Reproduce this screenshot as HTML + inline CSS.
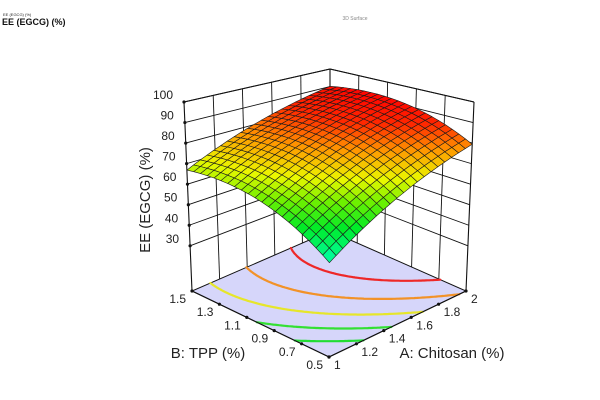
<!DOCTYPE html>
<html><head><meta charset="utf-8"><style>
html,body{margin:0;padding:0;background:#fff;}
svg{display:block;font-family:"Liberation Sans",sans-serif;}
</style></head><body>
<svg id="chart" width="600" height="400" viewBox="0 0 600 400" xmlns="http://www.w3.org/2000/svg">
<rect width="600" height="400" fill="#fff"/>
<text x="3" y="16" font-size="4" fill="#222">EE (EGCG) (%)</text>
<text x="2" y="25" font-size="9" font-weight="bold" fill="#111">EE (EGCG) (%)</text>
<text x="355" y="20" font-size="5" fill="#888" text-anchor="middle">3D Surface</text>
<g id="floor"></g>
<g id="walls"></g>
<g id="contours"></g>
<g id="surface"></g>
<g id="axes"></g>
<text x="150" y="200" font-size="15" fill="#222" text-anchor="middle" transform="rotate(-90 150 200)">EE (EGCG) (%)</text>
<text x="208" y="358" font-size="15" fill="#222" text-anchor="middle">B: TPP (%)</text>
<text x="452" y="358" font-size="15" fill="#222" text-anchor="middle">A: Chitosan (%)</text>
</svg>
<script>
// Quadratic model coefficients (coded units): b0, A, B, AB, A^2, B^2
const modelCoef = [79.5, 14, 7.74, -2.34, -2.23, -6.48];
const contourLevels = [56.6, 63.8, 71, 78.2, 85.4];
const contourColors = ["#22dd33", "#33e033", "#e6e62a", "#f29228", "#ee2828"];
const zTicks = [30, 40, 50, 60, 70, 80, 90, 100];
const aTicks = [1, 1.2, 1.4, 1.6, 1.8, 2];
const aTickLabels = ["1", "1.2", "1.4", "1.6", "1.8", "2"];
const bTicks = [0.5, 0.7, 0.9, 1.1, 1.3, 1.5];
const bTickLabels = ["0.5", "0.7", "0.9", "1.1", "1.3", "1.5"];
const aRange = [1, 2], bRange = [0.5, 1.5], zRange = [8, 100];

const NS = "http://www.w3.org/2000/svg";
const B = {c00:[329,357], c10:[466,291], c01:[192,291], c11:[330,231]};
const T = {c00:[330,133], c10:[474,102], c01:[184,102], c11:[330,69]};
function bil(C,u,v){
  return [C.c00[0]*(1-u)*(1-v)+C.c10[0]*u*(1-v)+C.c01[0]*(1-u)*v+C.c11[0]*u*v,
          C.c00[1]*(1-u)*(1-v)+C.c10[1]*u*(1-v)+C.c01[1]*(1-u)*v+C.c11[1]*u*v];
}
function P(u,v,w){const b=bil(B,u,v),t=bil(T,u,v);return [b[0]+(t[0]-b[0])*w,b[1]+(t[1]-b[1])*w];}
const uA = a => (a-aRange[0])/(aRange[1]-aRange[0]);
const vB = b => (b-bRange[0])/(bRange[1]-bRange[0]);
const wZ = z => (z-zRange[0])/(zRange[1]-zRange[0]);
function model(u,v){const x1=2*u-1,x2=2*v-1,c=modelCoef;
  return c[0]+c[1]*x1+c[2]*x2+c[3]*x1*x2+c[4]*x1*x1+c[5]*x2*x2;}
function mk(tag,attrs,parent){const e=document.createElementNS(NS,tag);for(const k in attrs)e.setAttribute(k,attrs[k]);parent.appendChild(e);return e;}
const pts = a => a.map(p=>p[0].toFixed(1)+","+p[1].toFixed(1)).join(" ");

// floor
const floorG=document.getElementById("floor");
const fl=mk("polygon",{points:pts([P(0,0,0),P(1,0,0),P(1,1,0),P(0,1,0)]),fill:"#d6d6fa",stroke:"#111","stroke-width":1},floorG);



// walls grid
const wallG=document.getElementById("walls");
function line(p,q,g,name,w){const l=mk("line",{x1:p[0],y1:p[1],x2:q[0],y2:q[1],stroke:"#111","stroke-width":w||0.9},g);
  
  return l;}
zTicks.forEach(z=>{const w=wZ(z);
  line(P(0,1,w),P(1,1,w),wallG,'left-wall-gridline');
  line(P(1,0,w),P(1,1,w),wallG,'right-wall-gridline');});
aTicks.slice(1,-1).forEach(a=>{const u=uA(a);line(P(u,1,0),P(u,1,1),wallG,'left-wall-vertical');});
bTicks.slice(1,-1).forEach(b=>{const v=vB(b);line(P(1,v,0),P(1,v,1),wallG,'right-wall-vertical');});
line(P(0,1,0),P(0,1,1),wallG,'left-edge',1.1);
line(P(1,0,0),P(1,0,1),wallG,'right-edge',1.1);
line(P(1,1,0),P(1,1,1),wallG,'back-edge',1.1);
line(P(0,1,1),P(1,1,1),wallG,'top-left-edge',1.1);
line(P(1,0,1),P(1,1,1),wallG,'top-right-edge',1.1);

// contours via marching squares
const cG=document.getElementById("contours");
const N=80;
const grid=[];for(let i=0;i<=N;i++){grid.push([]);for(let j=0;j<=N;j++)grid[i].push(model(i/N,j/N));}
contourLevels.forEach((L,k)=>{
  let d="";
  for(let i=0;i<N;i++)for(let j=0;j<N;j++){
    const c=[[i,j],[i+1,j],[i+1,j+1],[i,j+1]];
    const vals=c.map(p=>grid[p[0]][p[1]]);
    const cr=[];
    for(let e=0;e<4;e++){const a=vals[e],b=vals[(e+1)%4];
      if((a-L)*(b-L)<0){const t=(L-a)/(b-a);const p=c[e],q=c[(e+1)%4];
        cr.push([(p[0]+(q[0]-p[0])*t)/N,(p[1]+(q[1]-p[1])*t)/N]);}}
    if(cr.length>=2){const p1=P(cr[0][0],cr[0][1],0),p2=P(cr[1][0],cr[1][1],0);
      d+="M"+p1[0].toFixed(1)+" "+p1[1].toFixed(1)+"L"+p2[0].toFixed(1)+" "+p2[1].toFixed(1);}
  }
  const p=mk("path",{d:d,stroke:contourColors[k],"stroke-width":2.2,fill:"none","stroke-linecap":"round"},cG);
  
  
});

// surface
const sG=document.getElementById("surface");
const stops=[[0,[0,255,170]],[0.2,[0,235,40]],[0.36,[110,240,0]],[0.5,[235,248,0]],[0.68,[255,150,0]],[0.84,[255,40,0]],[1,[255,0,0]]];
function col(z){let t=(z-47)/(93-47);t=Math.max(0,Math.min(1,t));
  for(let i=1;i<stops.length;i++)if(t<=stops[i][0]){const a=stops[i-1],b=stops[i];const f=(t-a[0])/(b[0]-a[0]);
    return "rgb("+a[1].map((x,k)=>Math.round(x+(b[1][k]-x)*f)).join(",")+")";}
  return "rgb(255,0,0)";}
const M=21;const quads=[];
for(let i=0;i<M;i++)for(let j=0;j<M;j++)quads.push([i,j]);
quads.sort((p,q)=>(q[0]+q[1])-(p[0]+p[1]));
quads.forEach(([i,j])=>{
  const cs=[[i,j],[i+1,j],[i+1,j+1],[i,j+1]].map(p=>[p[0]/M,p[1]/M]);
  const zs=cs.map(p=>model(p[0],p[1]));
  const zc=zs.reduce((a,b)=>a+b)/4;
  const q=mk("polygon",{points:pts(cs.map((p,k)=>P(p[0],p[1],wZ(zs[k])))),fill:col(zc),stroke:"#1a1a1a","stroke-width":0.6,"stroke-linejoin":"round"},sG);
  
  
});

// axes, ticks, labels
const axG=document.getElementById("axes");
line(P(0,0,0),P(0,1,0),axG,'b-axis-line',1.1);
line(P(0,0,0),P(1,0,0),axG,'a-axis-line',1.1);
function dot(p,name){const c=mk("circle",{cx:p[0],cy:p[1],r:1.6,fill:"#111"},axG);
  
  }
function txt(x,y,s,anchor,name){const t=mk("text",{x:x,y:y,"font-size":12,fill:"#222","text-anchor":anchor},axG);t.textContent=s;
  
  }
zTicks.forEach(z=>{const p=P(0,1,wZ(z));dot(p,'z-tick');txt(p[0]-11,p[1]-3,String(z),"end",'z-tick-label');});
aTicks.forEach((a,k)=>{const p=P(uA(a),0,0);dot(p,'a-tick');txt(p[0]+5,p[1]+12,aTickLabels[k],"start",'a-tick-label');});
bTicks.forEach((b,k)=>{const p=P(0,vB(b),0);dot(p,'b-tick');txt(p[0]-6,p[1]+12,bTickLabels[k],"end",'b-tick-label');});
</script>
</body></html>
